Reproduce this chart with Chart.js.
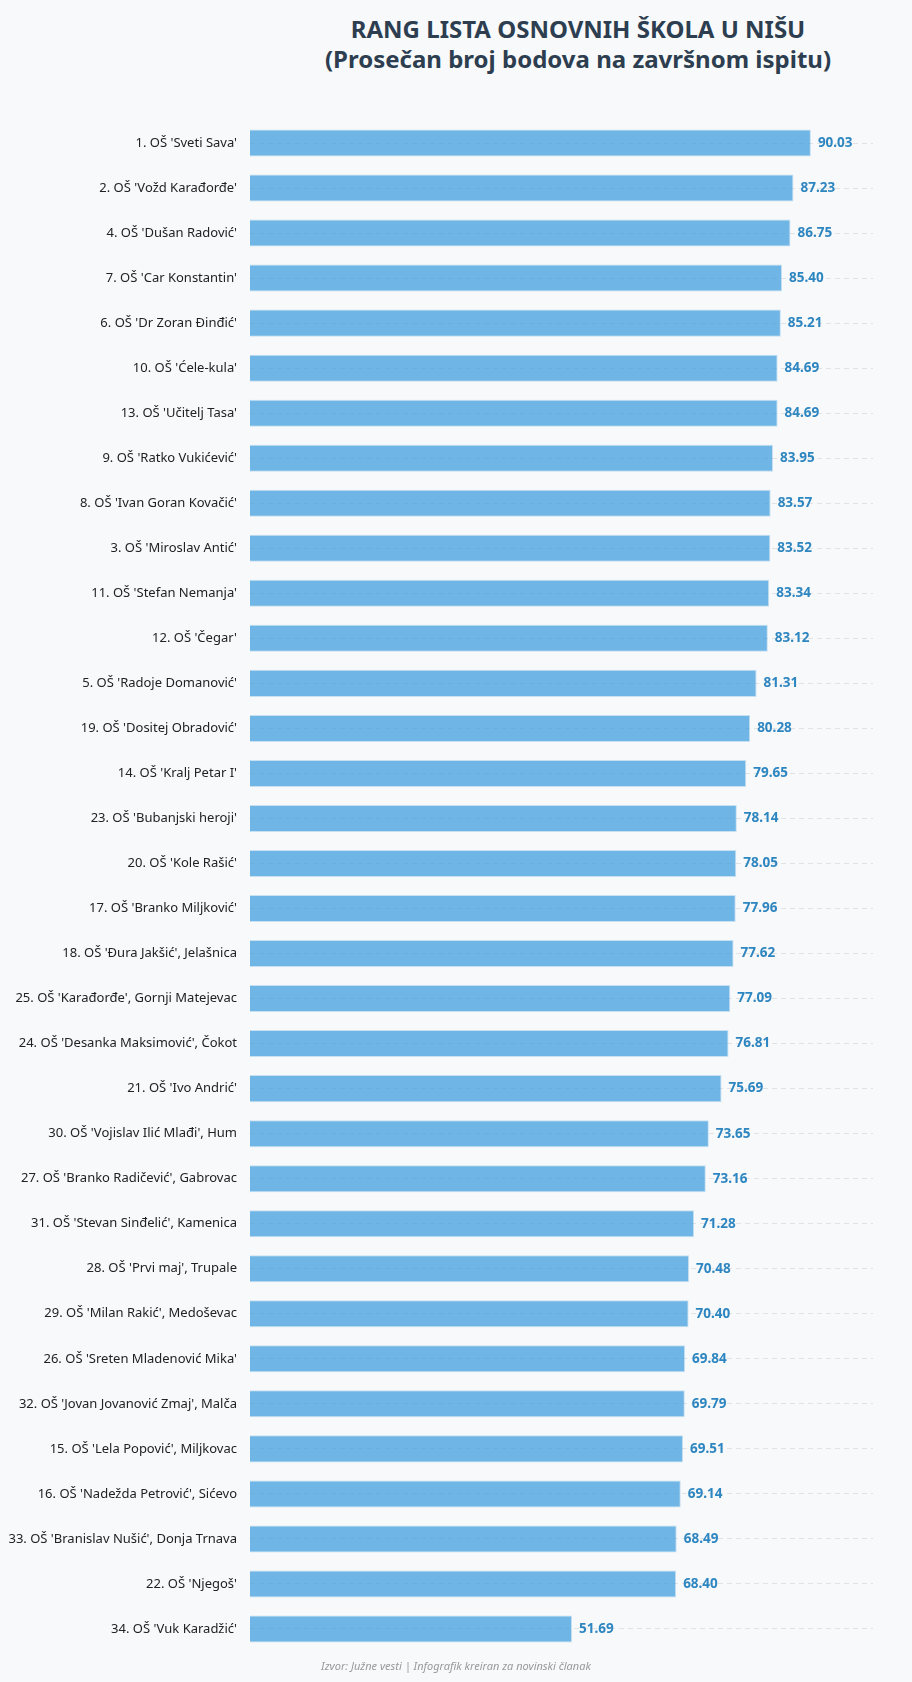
<!DOCTYPE html>
<html>
<head>
<meta charset="utf-8">
<script src="https://cdn.jsdelivr.net/npm/chart.js@4"></script>
<style>
  html, body { margin: 0; padding: 0; background: #f8f9fa; }
  body { width: 912px; height: 1682px; position: relative; overflow: hidden; font-family: "Noto Sans", sans-serif; }
  .title {
    position: absolute; left: 244px; right: 0; top: 14px;
    text-align: center; color: #2c3e50; font-weight: bold; font-size: 24px; line-height: 30px;
  }
  .wrap { position: absolute; left: 0; top: 0; width: 912px; height: 1682px; }
  .source {
    position: absolute; left: 0; right: 0; top: 1658px;
    text-align: center; color: #999; font-style: italic; font-size: 11px;
  }
</style>
</head>
<body>
<div class="title">RANG LISTA OSNOVNIH ŠKOLA U NIŠU<br>(Prosečan broj bodova na završnom ispitu)</div>
<div class="wrap"><canvas id="myChart"></canvas></div>
<div class="source">Izvor: Južne vesti | Infografik kreiran za novinski članak</div>
<script>
const schools = [
  "1. OŠ 'Sveti Sava'",
  "2. OŠ 'Vožd Karađorđe'",
  "4. OŠ 'Dušan Radović'",
  "7. OŠ 'Car Konstantin'",
  "6. OŠ 'Dr Zoran Đinđić'",
  "10. OŠ 'Ćele-kula'",
  "13. OŠ 'Učitelj Tasa'",
  "9. OŠ 'Ratko Vukićević'",
  "8. OŠ 'Ivan Goran Kovačić'",
  "3. OŠ 'Miroslav Antić'",
  "11. OŠ 'Stefan Nemanja'",
  "12. OŠ 'Čegar'",
  "5. OŠ 'Radoje Domanović'",
  "19. OŠ 'Dositej Obradović'",
  "14. OŠ 'Kralj Petar I'",
  "23. OŠ 'Bubanjski heroji'",
  "20. OŠ 'Kole Rašić'",
  "17. OŠ 'Branko Miljković'",
  "18. OŠ 'Đura Jakšić', Jelašnica",
  "25. OŠ 'Karađorđe', Gornji Matejevac",
  "24. OŠ 'Desanka Maksimović', Čokot",
  "21. OŠ 'Ivo Andrić'",
  "30. OŠ 'Vojislav Ilić Mlađi', Hum",
  "27. OŠ 'Branko Radičević', Gabrovac",
  "31. OŠ 'Stevan Sinđelić', Kamenica",
  "28. OŠ 'Prvi maj', Trupale",
  "29. OŠ 'Milan Rakić', Medoševac",
  "26. OŠ 'Sreten Mladenović Mika'",
  "32. OŠ 'Jovan Jovanović Zmaj', Malča",
  "15. OŠ 'Lela Popović', Miljkovac",
  "16. OŠ 'Nadežda Petrović', Sićevo",
  "33. OŠ 'Branislav Nušić', Donja Trnava",
  "22. OŠ 'Njegoš'",
  "34. OŠ 'Vuk Karadžić'"
];

const points = [
  90.03, 87.23, 86.75, 85.40, 85.21, 84.69, 84.69, 83.95, 83.57, 83.52,
  83.34, 83.12, 81.31, 80.28, 79.65, 78.14, 78.05, 77.96, 77.62, 77.09,
  76.81, 75.69, 73.65, 73.16, 71.28, 70.48, 70.40, 69.84, 69.79, 69.51,
  69.14, 68.49, 68.40, 51.69
];

const xMin = 0;
const xMax = 100;

// values printed right of each bar
const valueLabels = {
  id: 'valueLabels',
  afterDatasetsDraw(chart) {
    const ctx = chart.ctx;
    const meta = chart.getDatasetMeta(0);
    ctx.save();
    ctx.font = 'bold 13.5px "Noto Sans"';
    ctx.fillStyle = '#2e86c1';
    ctx.textAlign = 'left';
    ctx.textBaseline = 'middle';
    meta.data.forEach((bar, i) => {
      ctx.fillText(points[i].toFixed(2), bar.x + 7, bar.y);
    });
    ctx.restore();
  }
};

const data = {
  labels: schools,
  datasets: [{
    label: 'Prosečan broj bodova',
    data: points,
    backgroundColor: 'rgba(52, 152, 219, 0.7)',
    borderColor: 'rgba(52, 152, 219, 0.25)',
    borderWidth: 1,
    barPercentage: 0.6,
    categoryPercentage: 1.0,
  }],
};

const config = {
  type: 'bar',
  data: data,
  options: {
    indexAxis: 'y',
    responsive: true,
    maintainAspectRatio: false,
    animation: false,
    layout: {
      padding: { top: 120.5, bottom: 30.5, left: 0, right: 39 }
    },
    plugins: {
      legend: { display: false },
      tooltip: { enabled: false },
    },
    scales: {
      x: {
        display: false,
        min: xMin,
        max: xMax,
      },
      y: {
        afterFit(scale) { scale.width = 250; },
        border: { display: false, dash: [5, 4] },
        grid: {
          offset: false,
          drawTicks: false,
          color: 'rgba(0, 0, 0, 0.09)',
        },
        ticks: {
          padding: 13,
          color: '#222',
          font: { family: 'Noto Sans', size: 13 },
        },
      },
    },
  },
  plugins: [valueLabels],
};

const myChart = new Chart(
  document.getElementById('myChart'),
  config
);
</script>
</body>
</html>
